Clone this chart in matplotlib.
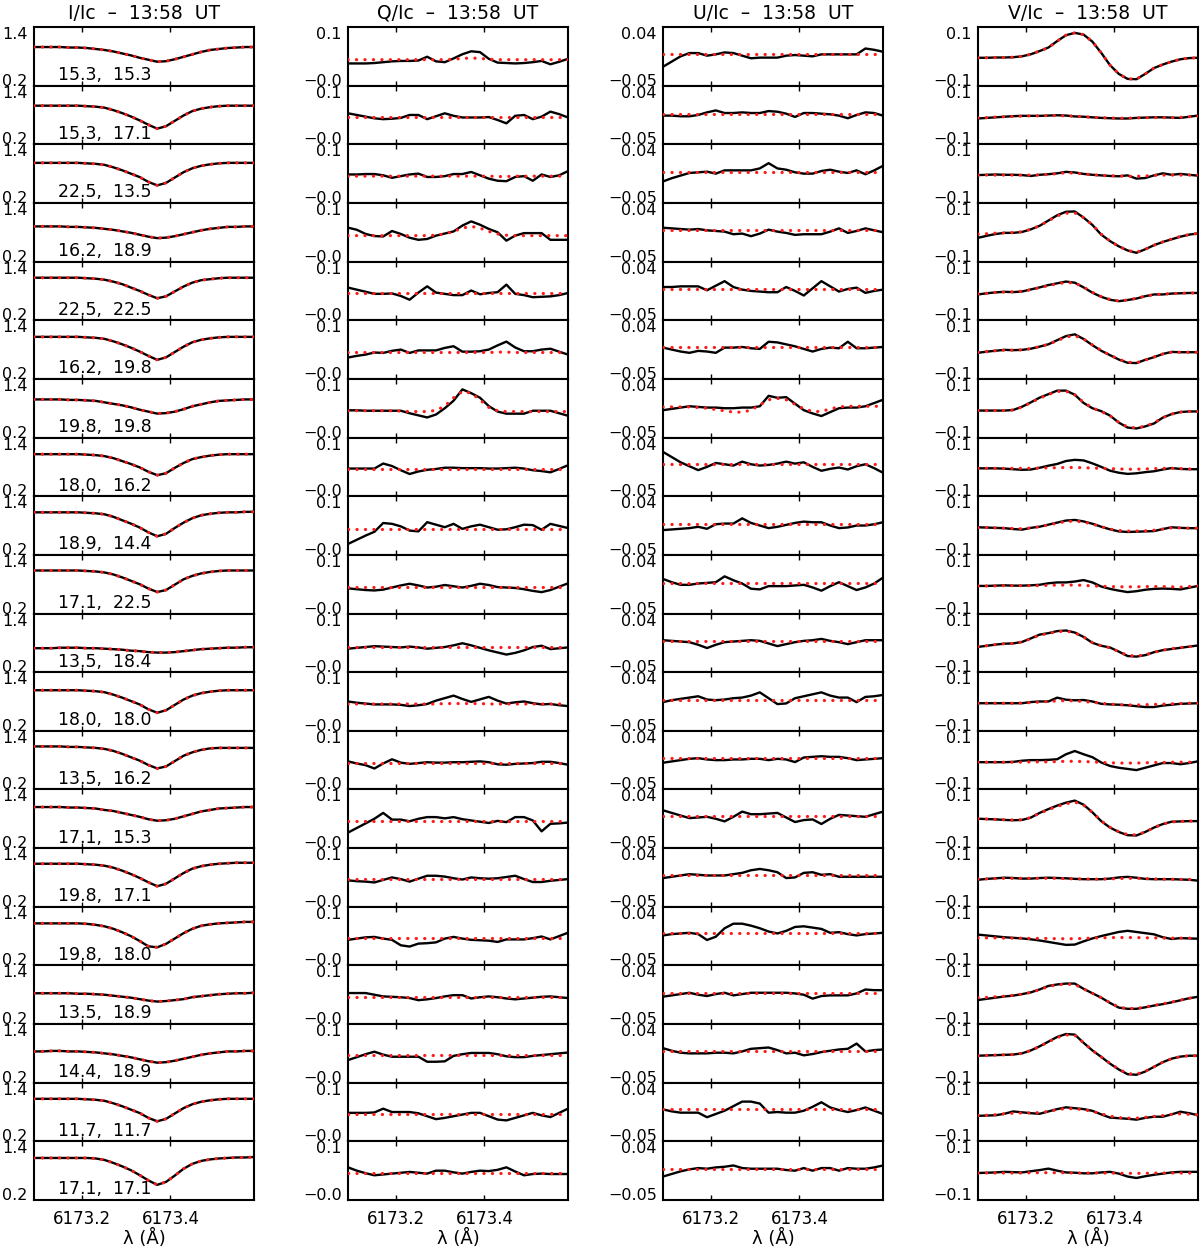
import matplotlib
matplotlib.use('Agg')
import matplotlib.pyplot as plt

plt.rcParams['font.family'] = ['DejaVu Sans']

wavelength = [6173.09, 6173.11, 6173.13, 6173.15, 6173.17, 6173.19, 6173.21, 6173.23, 6173.25,
              6173.27, 6173.29, 6173.31, 6173.33, 6173.35, 6173.37, 6173.39, 6173.41, 6173.43,
              6173.45, 6173.47, 6173.49, 6173.51, 6173.53, 6173.55, 6173.57, 6173.59]

row_labels = ["15.3,  15.3", "15.3,  17.1", "22.5,  13.5", "16.2,  18.9", "22.5,  22.5",
              "16.2,  19.8", "19.8,  19.8", "18.0,  16.2", "18.9,  14.4", "17.1,  22.5",
              "13.5,  18.4", "18.0,  18.0", "13.5,  16.2", "17.1,  15.3", "19.8,  17.1",
              "19.8,  18.0", "13.5,  18.9", "14.4,  18.9", "11.7,  11.7", "17.1,  17.1"]

panel_titles = ["I/Ic  \u2013  13:58  UT", "Q/Ic  \u2013  13:58  UT",
                "U/Ic  \u2013  13:58  UT", "V/Ic  \u2013  13:58  UT"]

y_limits = [(0.2, 1.4), (-0.04, 0.1), (-0.05, 0.04), (-0.1, 0.1)]
y_tick_labels = [["0.2", "1.4"], ["\u22120.0", "0.1"], ["\u22120.05", "0.04"], ["\u22120.1", "0.1"]]
x_ticks = [6173.2, 6173.4]
x_tick_labels = ["6173.2", "6173.4"]
x_label = "\u03bb (\u00c5)"

i_obs = [
 [.99,.99,.99,.99,.98,.98,.97,.95,.93,.90,.86,.82,.77,.73,.69,.70,.74,.79,.84,.89,.93,.95,.97,.98,.99,.99],
 [.99,.99,.99,.99,.99,.99,.98,.97,.95,.90,.84,.77,.69,.60,.52,.57,.68,.79,.88,.93,.96,.98,.99,.99,.99,.99],
 [1.02,1.02,1.02,1.02,1.02,1.02,1.01,1.00,.98,.93,.87,.80,.73,.63,.56,.61,.72,.83,.91,.96,.99,1.01,1.02,1.02,1.02,1.02],
 [.92,.92,.92,.92,.91,.91,.90,.89,.87,.85,.82,.79,.75,.71,.68,.69,.72,.76,.80,.84,.87,.89,.91,.91,.92,.92],
 [1.07,1.07,1.07,1.07,1.07,1.07,1.06,1.05,1.03,.99,.94,.87,.80,.72,.65,.69,.79,.89,.97,1.02,1.04,1.06,1.07,1.07,1.07,1.07],
 [1.06,1.06,1.06,1.06,1.06,1.06,1.05,1.04,1.02,.97,.91,.84,.76,.67,.59,.64,.75,.86,.95,1.00,1.03,1.05,1.06,1.06,1.06,1.06],
 [.98,.98,.98,.98,.97,.97,.96,.95,.92,.89,.86,.82,.77,.73,.69,.70,.73,.78,.84,.88,.92,.95,.96,.97,.98,.98],
 [1.06,1.06,1.06,1.06,1.06,1.06,1.05,1.04,1.02,.98,.92,.86,.79,.70,.63,.67,.78,.88,.96,1.00,1.03,1.05,1.06,1.06,1.06,1.06],
 [1.07,1.07,1.07,1.07,1.07,1.07,1.06,1.05,1.03,.98,.91,.84,.76,.66,.58,.63,.75,.86,.95,1.01,1.04,1.06,1.07,1.07,1.08,1.08],
 [1.08,1.08,1.08,1.08,1.08,1.08,1.07,1.06,1.04,1.00,.94,.87,.80,.71,.64,.68,.79,.90,.97,1.02,1.05,1.07,1.08,1.08,1.08,1.08],
 [.69,.69,.69,.70,.70,.70,.69,.69,.68,.67,.66,.64,.63,.61,.60,.60,.61,.63,.65,.67,.68,.69,.70,.70,.71,.71],
 [1.03,1.03,1.03,1.03,1.03,1.03,1.02,1.01,.99,.94,.88,.81,.74,.64,.57,.62,.73,.84,.92,.97,1.00,1.02,1.03,1.03,1.03,1.03],
 [1.08,1.08,1.08,1.08,1.07,1.07,1.06,1.05,1.03,.99,.93,.86,.79,.70,.63,.67,.78,.89,.96,1.01,1.04,1.05,1.05,1.05,1.05,1.05],
 [1.04,1.04,1.04,1.04,1.03,1.03,1.02,1.01,.98,.96,.92,.88,.84,.79,.76,.77,.80,.85,.90,.95,.98,1.01,1.02,1.03,1.04,1.04],
 [1.08,1.08,1.08,1.08,1.08,1.08,1.07,1.06,1.04,1.00,.94,.87,.79,.70,.62,.67,.78,.89,.98,1.03,1.06,1.08,1.09,1.10,1.10,1.10],
 [1.06,1.06,1.06,1.06,1.06,1.06,1.05,1.03,1.00,.95,.88,.80,.70,.59,.57,.64,.75,.86,.95,1.01,1.04,1.06,1.07,1.08,1.09,1.09],
 [.83,.83,.83,.83,.83,.82,.82,.81,.80,.78,.76,.74,.71,.68,.66,.67,.69,.71,.75,.77,.79,.81,.82,.83,.83,.84],
 [.84,.84,.85,.85,.84,.84,.83,.82,.80,.78,.75,.72,.68,.64,.61,.62,.65,.69,.73,.77,.80,.82,.84,.84,.85,.85],
 [1.07,1.07,1.07,1.07,1.07,1.07,1.06,1.05,1.03,.98,.92,.85,.78,.68,.61,.66,.77,.88,.96,1.01,1.04,1.06,1.07,1.07,1.07,1.07],
 [1.06,1.06,1.06,1.06,1.06,1.06,1.06,1.05,1.02,.96,.89,.81,.71,.60,.51,.57,.70,.84,.94,1.00,1.03,1.05,1.06,1.07,1.07,1.08],
]

i_fit = [
 [.99,.99,.99,.99,.98,.98,.97,.95,.93,.90,.86,.82,.77,.73,.69,.70,.74,.79,.84,.89,.93,.95,.97,.98,.99,.99],
 [.99,.99,.99,.99,.99,.99,.98,.97,.95,.90,.84,.77,.69,.60,.52,.57,.68,.79,.88,.93,.96,.98,.99,.99,.99,.99],
 [1.02,1.02,1.02,1.02,1.02,1.02,1.01,1.00,.98,.93,.87,.80,.73,.63,.56,.61,.72,.83,.91,.96,.99,1.01,1.02,1.02,1.02,1.02],
 [.92,.92,.92,.92,.91,.91,.90,.89,.87,.85,.82,.79,.75,.71,.68,.69,.72,.76,.80,.84,.87,.89,.91,.91,.92,.92],
 [1.07,1.07,1.07,1.07,1.07,1.07,1.06,1.05,1.03,.99,.94,.87,.80,.72,.65,.69,.79,.89,.97,1.02,1.04,1.06,1.07,1.07,1.07,1.07],
 [1.06,1.06,1.06,1.06,1.06,1.06,1.05,1.04,1.02,.97,.91,.84,.76,.67,.59,.64,.75,.86,.95,1.00,1.03,1.05,1.06,1.06,1.06,1.06],
 [.98,.98,.98,.98,.97,.97,.96,.95,.92,.89,.86,.82,.77,.73,.69,.70,.73,.78,.84,.88,.92,.95,.96,.97,.98,.98],
 [1.06,1.06,1.06,1.06,1.06,1.06,1.05,1.04,1.02,.98,.92,.86,.79,.70,.63,.67,.78,.88,.96,1.00,1.03,1.05,1.06,1.06,1.06,1.06],
 [1.07,1.07,1.07,1.07,1.07,1.07,1.06,1.05,1.03,.98,.91,.84,.76,.66,.58,.63,.75,.86,.95,1.01,1.04,1.06,1.07,1.07,1.08,1.08],
 [1.08,1.08,1.08,1.08,1.08,1.08,1.07,1.06,1.04,1.00,.94,.87,.80,.71,.64,.68,.79,.90,.97,1.02,1.05,1.07,1.08,1.08,1.08,1.08],
 [.69,.69,.69,.70,.70,.70,.69,.69,.68,.67,.66,.64,.63,.61,.60,.60,.61,.63,.65,.67,.68,.69,.70,.70,.71,.71],
 [1.03,1.03,1.03,1.03,1.03,1.03,1.02,1.01,.99,.94,.88,.81,.74,.64,.57,.62,.73,.84,.92,.97,1.00,1.02,1.03,1.03,1.03,1.03],
 [1.08,1.08,1.08,1.08,1.07,1.07,1.06,1.05,1.03,.99,.93,.86,.79,.70,.63,.67,.78,.89,.96,1.01,1.04,1.05,1.05,1.05,1.05,1.05],
 [1.04,1.04,1.04,1.04,1.03,1.03,1.02,1.01,.98,.96,.92,.88,.84,.79,.76,.77,.80,.85,.90,.95,.98,1.01,1.02,1.03,1.04,1.04],
 [1.08,1.08,1.08,1.08,1.08,1.08,1.07,1.06,1.04,1.00,.94,.87,.79,.70,.62,.67,.78,.89,.98,1.03,1.06,1.08,1.09,1.10,1.10,1.10],
 [1.06,1.06,1.06,1.06,1.06,1.06,1.05,1.03,1.00,.95,.88,.80,.70,.59,.57,.64,.75,.86,.95,1.01,1.04,1.06,1.07,1.08,1.09,1.09],
 [.83,.83,.83,.83,.83,.82,.82,.81,.80,.78,.76,.74,.71,.68,.66,.67,.69,.71,.75,.77,.79,.81,.82,.83,.83,.84],
 [.84,.84,.85,.85,.84,.84,.83,.82,.80,.78,.75,.72,.68,.64,.61,.62,.65,.69,.73,.77,.80,.82,.84,.84,.85,.85],
 [1.07,1.07,1.07,1.07,1.07,1.07,1.06,1.05,1.03,.98,.92,.85,.78,.68,.61,.66,.77,.88,.96,1.01,1.04,1.06,1.07,1.07,1.07,1.07],
 [1.06,1.06,1.06,1.06,1.06,1.06,1.06,1.05,1.02,.96,.89,.81,.71,.60,.51,.57,.70,.84,.94,1.00,1.03,1.05,1.06,1.07,1.07,1.08],
]

q_obs = [
 [.013,.013,.013,.014,.016,.018,.019,.019,.020,.029,.018,.016,.025,.035,.042,.040,.024,.015,.014,.013,.014,.016,.019,.011,.017,.024],
 [.034,.030,.026,.022,.020,.021,.023,.030,.030,.020,.027,.034,.028,.024,.024,.024,.025,.018,.010,.028,.030,.020,.026,.038,.032,.024],
 [.028,.028,.029,.029,.026,.020,.024,.028,.030,.022,.022,.024,.029,.029,.034,.026,.018,.013,.012,.022,.024,.013,.028,.022,.026,.036],
 [.041,.036,.026,.021,.020,.033,.026,.017,.012,.014,.022,.027,.032,.046,.056,.048,.038,.030,.010,.022,.028,.028,.028,.012,.012,.012],
 [.038,.033,.028,.023,.023,.024,.018,.009,.026,.041,.026,.023,.020,.020,.031,.022,.025,.027,.045,.023,.020,.015,.016,.017,.020,.025],
 [.011,.015,.018,.023,.022,.027,.030,.022,.028,.028,.028,.034,.038,.025,.025,.026,.030,.040,.049,.035,.026,.026,.030,.032,.025,.018],
 [.025,.025,.024,.024,.024,.024,.024,.018,.013,.008,.015,.030,.048,.075,.066,.055,.035,.022,.017,.017,.017,.024,.024,.024,.018,.012],
 [.026,.026,.026,.026,.038,.032,.022,.013,.019,.023,.025,.028,.028,.027,.027,.027,.026,.026,.027,.028,.026,.022,.020,.017,.025,.034],
 [-.014,-.004,.006,.015,.036,.034,.028,.018,.016,.038,.032,.026,.034,.022,.028,.032,.026,.020,.021,.026,.032,.031,.020,.034,.029,.024],
 [.020,.018,.016,.015,.017,.022,.027,.031,.027,.022,.024,.028,.025,.022,.026,.031,.028,.023,.022,.021,.018,.014,.011,.016,.024,.032],
 [.016,.018,.020,.022,.021,.020,.019,.021,.019,.016,.018,.020,.024,.029,.024,.018,.012,.007,.002,.006,.012,.020,.023,.015,.017,.019],
 [.030,.027,.025,.023,.023,.023,.022,.019,.021,.024,.032,.038,.044,.036,.029,.035,.041,.032,.025,.028,.030,.026,.023,.024,.021,.019],
 [.027,.022,.018,.010,.022,.032,.024,.021,.023,.025,.024,.024,.025,.025,.026,.027,.025,.020,.019,.021,.022,.023,.026,.026,.023,.019],
 [-.003,.008,.019,.030,.044,.028,.028,.024,.030,.034,.034,.031,.034,.029,.026,.023,.020,.025,.022,.034,.034,.026,.000,.018,.019,.021],
 [.023,.021,.020,.018,.024,.030,.026,.020,.027,.034,.034,.032,.028,.025,.030,.028,.027,.028,.031,.034,.026,.019,.019,.022,.024,.026],
 [.021,.024,.027,.028,.024,.021,.008,.005,.012,.013,.015,.024,.028,.024,.021,.020,.019,.016,.022,.022,.022,.025,.029,.022,.030,.038],
 [.034,.034,.034,.030,.026,.025,.024,.022,.017,.019,.022,.026,.029,.029,.021,.024,.026,.024,.021,.019,.021,.023,.025,.026,.024,.022],
 [.014,.021,.028,.034,.027,.022,.022,.022,.022,.010,.010,.011,.024,.028,.031,.031,.031,.028,.023,.021,.021,.024,.026,.028,.030,.032],
 [.028,.028,.028,.029,.038,.030,.030,.030,.027,.020,.013,.016,.020,.024,.028,.028,.020,.012,.010,.016,.022,.028,.022,.018,.028,.038],
 [.038,.030,.024,.019,.021,.023,.025,.027,.025,.023,.030,.030,.026,.023,.027,.030,.029,.032,.038,.028,.019,.022,.023,.022,.022,.022],
]

q_fit = [
 [.022,.022,.022,.022,.022,.022,.022,.022,.022,.022,.022,.022,.023,.025,.026,.025,.023,.022,.022,.022,.022,.022,.022,.022,.022,.022],
 [.024,.024,.024,.024,.024,.024,.024,.024,.024,.024,.024,.024,.024,.024,.024,.024,.024,.024,.024,.024,.024,.024,.024,.024,.024,.024],
 [.024,.024,.024,.024,.024,.024,.024,.024,.024,.024,.024,.024,.024,.024,.024,.024,.024,.023,.023,.024,.024,.024,.024,.024,.024,.024],
 [.022,.022,.022,.022,.022,.022,.022,.022,.022,.022,.023,.026,.032,.040,.044,.040,.032,.026,.023,.022,.022,.022,.022,.022,.022,.022],
 [.025,.025,.025,.025,.025,.025,.025,.025,.025,.025,.025,.025,.025,.025,.025,.025,.025,.025,.025,.025,.025,.025,.025,.025,.025,.025],
 [.023,.023,.023,.023,.023,.023,.023,.023,.023,.023,.023,.023,.023,.023,.023,.023,.023,.024,.024,.023,.023,.023,.023,.023,.023,.023],
 [.024,.024,.024,.024,.024,.024,.023,.022,.022,.022,.025,.035,.055,.070,.066,.050,.032,.024,.022,.022,.022,.022,.022,.022,.022,.022],
 [.024,.024,.024,.024,.024,.024,.024,.024,.024,.024,.024,.024,.024,.024,.024,.024,.024,.024,.024,.024,.024,.024,.024,.024,.024,.024],
 [.022,.022,.022,.022,.022,.022,.022,.022,.022,.022,.022,.022,.022,.022,.022,.022,.022,.022,.022,.022,.022,.022,.022,.022,.022,.022],
 [.024,.024,.024,.024,.024,.024,.024,.024,.024,.024,.024,.024,.024,.024,.024,.024,.024,.024,.024,.024,.024,.024,.024,.024,.024,.024],
 [.021,.021,.021,.021,.021,.021,.021,.021,.021,.021,.021,.021,.021,.021,.021,.021,.021,.021,.021,.021,.021,.021,.021,.021,.021,.021],
 [.024,.024,.024,.024,.024,.024,.024,.024,.024,.024,.024,.025,.025,.025,.025,.025,.024,.024,.024,.024,.024,.024,.024,.024,.024,.024],
 [.023,.023,.023,.023,.023,.023,.023,.023,.023,.023,.023,.023,.023,.023,.023,.023,.023,.023,.023,.023,.023,.023,.023,.023,.023,.023],
 [.024,.024,.024,.024,.024,.024,.024,.024,.024,.024,.024,.024,.024,.024,.024,.024,.024,.024,.024,.024,.024,.024,.024,.024,.024,.024],
 [.026,.026,.026,.026,.026,.026,.026,.026,.026,.026,.026,.026,.026,.026,.026,.026,.026,.026,.026,.026,.026,.026,.026,.026,.026,.026],
 [.026,.026,.026,.026,.026,.026,.026,.026,.026,.026,.026,.026,.026,.026,.026,.026,.026,.026,.026,.026,.026,.026,.026,.026,.026,.026],
 [.025,.025,.025,.025,.025,.025,.025,.025,.025,.025,.025,.025,.025,.025,.025,.025,.025,.025,.025,.025,.025,.025,.025,.025,.025,.025],
 [.026,.026,.026,.026,.026,.026,.026,.026,.026,.026,.026,.026,.026,.026,.026,.026,.026,.026,.026,.026,.026,.026,.026,.026,.026,.026],
 [.026,.026,.026,.026,.026,.026,.026,.026,.026,.026,.026,.026,.026,.026,.026,.026,.026,.026,.026,.026,.026,.026,.026,.026,.026,.026],
 [.024,.024,.024,.024,.024,.024,.024,.024,.024,.024,.024,.024,.024,.024,.024,.024,.024,.024,.024,.024,.024,.024,.024,.024,.024,.024],
]

u_obs = [
 [-.021,-.013,-.005,.000,.000,-.004,-.002,.001,.000,-.004,-.008,-.007,-.007,-.007,-.004,-.003,-.004,-.005,-.002,-.002,-.002,-.002,-.002,.007,.005,.002],
 [-.006,-.006,-.007,-.007,-.005,-.001,.002,-.002,-.002,-.001,-.002,-.002,.001,.000,-.003,-.008,-.002,-.002,-.003,-.004,-.006,-.010,-.005,-.001,-.002,-.006],
 [-.017,-.012,-.008,-.004,-.003,-.002,-.005,.000,.000,.000,.000,.003,.011,.003,.001,-.003,-.005,-.005,-.001,.001,-.002,-.004,.000,-.006,.000,.007],
 [.002,.001,.000,-.001,.000,-.002,-.003,-.004,-.008,-.007,-.011,-.007,-.001,-.004,-.006,-.009,-.008,-.008,-.008,-.004,.001,-.006,-.003,.001,-.002,-.005],
 [.001,.001,.002,.002,.002,-.004,.003,.010,.001,-.003,-.005,-.006,-.007,-.007,.001,-.005,-.012,-.001,.010,.002,-.006,-.002,.000,-.008,-.005,-.003],
 [-.002,-.005,-.008,-.010,-.007,-.008,-.010,-.002,-.002,-.001,-.003,-.004,.007,.006,.003,.000,-.004,-.008,-.004,-.002,-.003,.007,-.003,-.003,-.002,-.001],
 [-.008,-.006,-.004,-.002,-.003,-.004,-.004,-.005,-.005,-.004,-.004,-.002,.014,.011,.012,.002,-.008,-.013,-.017,-.011,-.005,-.004,-.004,-.002,.003,.008],
 [.018,.010,.002,-.004,-.010,-.005,.001,-.001,-.003,.003,-.001,-.003,-.002,.000,.003,.000,.002,-.005,-.011,-.008,-.006,-.009,-.004,-.001,-.007,-.014],
 [-.012,-.011,-.010,-.009,-.007,-.010,-.003,-.002,-.002,.006,-.001,-.005,-.009,-.007,-.004,-.001,.001,.000,.000,-.005,-.009,-.008,-.005,-.005,-.003,.000],
 [.003,-.002,-.006,-.006,-.004,-.003,-.002,.007,.001,-.004,-.012,-.013,-.008,-.008,-.008,-.007,-.006,-.010,-.015,-.008,-.002,-.008,-.014,-.010,-.004,.005],
 [-.001,-.002,-.003,-.004,-.008,-.013,-.008,-.004,-.003,-.002,-.001,-.002,-.006,-.010,-.007,-.004,-.002,-.001,.001,-.002,-.004,-.007,-.004,-.001,-.001,-.001],
 [-.006,-.003,-.001,.001,.003,-.002,-.003,-.002,.000,.001,.004,.009,.000,-.009,-.008,.000,.003,.006,.009,.004,.001,.001,-.006,.002,.003,.005],
 [-.009,-.007,-.005,-.003,-.002,-.004,-.005,-.005,-.004,-.004,-.003,-.003,-.005,-.003,-.004,-.008,-.001,.000,.001,.000,.000,-.002,-.005,-.004,-.003,-.002],
 [.008,.004,.000,-.004,-.003,-.002,-.005,-.009,-.002,.006,.002,.002,.003,.004,-.003,-.010,-.007,-.006,-.013,-.005,.001,.000,-.001,-.002,.002,.006],
 [-.006,-.004,-.002,.000,-.001,-.002,-.002,-.002,.000,.002,.006,.008,.006,.003,-.006,-.005,.002,.003,-.001,.000,-.004,-.004,-.004,-.004,-.004,-.004],
 [-.004,-.002,-.001,.000,-.002,-.011,-.006,.007,.014,.014,.011,.007,.002,-.001,.003,.009,.010,.008,.006,.000,.001,-.002,-.004,-.002,-.001,.000],
 [-.008,-.006,-.004,-.002,-.005,-.007,-.004,-.002,-.006,-.004,-.002,-.002,-.002,-.002,-.002,-.003,-.005,-.011,-.007,-.006,-.006,-.006,-.003,.003,.002,.002],
 [.003,-.001,-.004,-.005,-.005,-.005,-.004,-.004,-.005,-.002,.002,.003,.004,.000,-.005,-.004,-.008,-.006,-.003,-.001,.001,.002,.010,-.002,.000,.001],
 [-.001,-.004,-.006,-.006,-.006,-.013,-.008,-.003,.004,.011,.011,.008,-.006,-.005,-.006,-.006,-.003,.003,.010,.002,-.002,-.005,-.002,.002,-.003,-.008],
 [-.014,-.010,-.006,-.003,-.001,-.002,.000,.001,.003,-.001,-.002,-.002,-.002,-.002,-.004,-.005,-.001,-.005,-.001,-.001,-.005,-.001,-.002,-.002,.000,.003],
]

u_fit = [
 [-.002,-.002,-.002,-.002,-.002,-.002,-.002,-.002,-.002,-.002,-.002,-.002,-.002,-.002,-.002,-.002,-.002,-.002,-.002,-.002,-.002,-.002,-.002,-.002,-.002,-.002],
 [-.003,-.003,-.003,-.003,-.003,-.003,-.003,-.003,-.003,-.003,-.003,-.003,-.003,-.003,-.003,-.003,-.003,-.003,-.003,-.003,-.003,-.003,-.003,-.003,-.003,-.003],
 [-.002,-.002,-.002,-.002,-.002,-.002,-.002,-.002,-.002,-.002,-.002,-.002,-.002,-.002,-.002,-.002,-.002,-.002,-.002,-.002,-.002,-.002,-.002,-.002,-.002,-.002],
 [-.002,-.002,-.002,-.002,-.002,-.002,-.002,-.002,-.002,-.002,-.002,-.002,-.002,-.002,-.002,-.002,-.002,-.002,-.002,-.002,-.002,-.002,-.002,-.002,-.002,-.002],
 [-.002,-.002,-.002,-.002,-.002,-.002,-.002,-.002,-.002,-.002,-.002,-.002,-.002,-.002,-.002,-.002,-.002,-.002,-.002,-.002,-.002,-.002,-.002,-.002,-.002,-.002],
 [-.001,-.001,-.001,-.001,-.001,-.001,-.001,-.001,-.001,-.001,-.001,-.001,-.001,-.001,-.001,-.001,-.001,-.001,-.001,-.001,-.001,-.001,-.001,-.001,-.001,-.001],
 [-.003,-.003,-.003,-.003,-.004,-.005,-.007,-.009,-.011,-.011,-.008,.000,.008,.010,.008,.001,-.006,-.010,-.010,-.006,-.003,-.002,-.002,-.002,-.002,-.002],
 [-.001,-.001,-.001,-.001,-.001,-.001,-.001,-.001,-.001,-.001,-.001,-.001,-.001,-.001,-.001,-.001,-.001,-.001,-.001,-.001,-.001,-.001,-.001,-.001,-.001,-.001],
 [-.002,-.002,-.002,-.002,-.002,-.002,-.002,-.002,-.002,-.002,-.002,-.002,-.002,-.002,-.002,-.002,-.002,-.002,-.002,-.002,-.002,-.002,-.002,-.002,-.002,-.002],
 [-.003,-.003,-.003,-.003,-.003,-.003,-.003,-.003,-.003,-.003,-.003,-.003,-.003,-.003,-.003,-.003,-.003,-.003,-.003,-.003,-.003,-.003,-.003,-.003,-.003,-.003],
 [-.002,-.002,-.002,-.002,-.002,-.002,-.002,-.002,-.002,-.002,-.002,-.002,-.002,-.002,-.002,-.002,-.002,-.002,-.002,-.002,-.002,-.002,-.002,-.002,-.002,-.002],
 [-.003,-.003,-.003,-.003,-.003,-.003,-.003,-.003,-.003,-.003,-.003,-.003,-.003,-.003,-.003,-.003,-.003,-.003,-.003,-.003,-.003,-.003,-.003,-.003,-.003,-.003],
 [-.002,-.002,-.002,-.002,-.002,-.002,-.002,-.002,-.002,-.002,-.002,-.002,-.002,-.002,-.002,-.002,-.002,-.002,-.002,-.002,-.002,-.002,-.002,-.002,-.002,-.002],
 [.000,.000,.000,.000,.000,.000,.000,.000,.000,.000,.000,.000,.000,.000,.000,.000,.000,.000,.000,.000,.000,.000,.000,.000,.000,.000],
 [-.001,-.001,-.001,-.001,-.001,-.001,-.001,-.001,-.001,-.001,-.001,-.001,-.001,-.001,-.001,-.001,-.001,-.001,-.001,-.001,-.001,-.001,-.001,-.001,-.001,-.001],
 [-.001,-.001,-.001,-.001,-.001,-.001,-.001,-.001,-.001,-.001,-.001,-.001,-.001,-.001,-.001,-.001,-.001,-.001,-.001,-.001,-.001,-.001,-.001,-.001,-.001,-.001],
 [-.002,-.002,-.002,-.002,-.002,-.002,-.002,-.002,-.002,-.002,-.002,-.002,-.002,-.002,-.002,-.002,-.002,-.002,-.002,-.002,-.002,-.002,-.002,-.002,-.002,-.002],
 [-.001,-.001,-.001,-.001,-.001,-.001,-.001,-.001,-.001,-.001,-.001,-.001,-.001,-.001,-.001,-.001,-.001,-.001,-.001,-.001,-.001,-.001,-.001,-.001,-.001,-.001],
 [-.001,-.001,-.001,-.001,-.001,-.001,-.001,-.001,-.001,-.001,-.001,-.001,-.001,-.001,-.001,-.001,-.001,-.001,-.001,-.001,-.001,-.001,-.001,-.001,-.001,-.001],
 [-.002,-.002,-.002,-.002,-.002,-.002,-.002,-.002,-.002,-.002,-.002,-.002,-.002,-.002,-.002,-.002,-.002,-.002,-.002,-.002,-.002,-.002,-.002,-.002,-.002,-.002],
]

v_obs = [
 [-.005,-.005,-.004,-.004,-.003,.000,.007,.018,.030,.052,.072,.080,.074,.050,.012,-.030,-.060,-.077,-.078,-.060,-.040,-.028,-.018,-.010,-.006,-.005],
 [-.012,-.010,-.008,-.006,-.004,-.003,-.003,-.003,-.002,-.001,-.002,-.005,-.006,-.008,-.010,-.011,-.012,-.012,-.010,-.009,-.008,-.008,-.009,-.010,-.006,-.002],
 [-.005,-.004,-.003,-.004,-.004,-.005,-.008,-.004,-.002,.001,.006,.004,-.001,-.004,-.006,-.008,-.009,-.006,-.017,-.015,-.006,.001,-.004,-.001,-.004,-.007],
 [-.019,-.012,-.006,-.002,-.002,.001,.010,.022,.040,.058,.070,.071,.050,.025,-.008,-.030,-.048,-.062,-.070,-.058,-.044,-.033,-.024,-.015,-.008,-.004],
 [-.012,-.008,-.005,-.003,-.004,-.002,.005,.012,.020,.026,.032,.028,.012,-.006,-.020,-.030,-.035,-.031,-.026,-.018,-.012,-.012,-.009,-.008,-.007,-.007],
 [-.011,-.007,-.004,-.001,-.002,-.001,.003,.010,.018,.032,.046,.052,.036,.015,-.004,-.019,-.034,-.045,-.046,-.035,-.026,-.015,-.008,-.009,-.009,-.009],
 [-.008,-.008,-.008,-.008,-.006,.005,.020,.036,.048,.060,.060,.046,.018,.000,-.010,-.025,-.049,-.066,-.069,-.062,-.052,-.032,-.020,-.013,-.011,-.011],
 [-.005,-.005,-.005,-.006,-.008,-.010,-.009,-.003,.004,.010,.020,.024,.022,.012,.000,-.013,-.020,-.024,-.022,-.018,-.015,-.009,-.004,-.007,-.008,-.008],
 [-.006,-.007,-.008,-.009,-.012,-.014,-.008,-.004,.003,.010,.017,.019,.014,.006,-.004,-.013,-.020,-.022,-.021,-.020,-.019,-.012,-.006,-.008,-.009,-.009],
 [-.006,-.006,-.005,-.004,-.005,-.005,-.004,-.002,.003,.006,.006,.009,.014,.006,-.008,-.016,-.022,-.027,-.024,-.019,-.016,-.015,-.016,-.018,-.012,-.006],
 [-.014,-.010,-.006,-.003,-.002,.003,.015,.028,.033,.040,.042,.035,.020,.000,-.010,-.016,-.030,-.045,-.047,-.042,-.032,-.025,-.021,-.017,-.013,-.009],
 [-.006,-.006,-.006,-.006,-.006,-.006,-.002,.000,.000,.013,.006,.004,.005,.000,-.008,-.010,-.011,-.013,-.016,-.019,-.019,-.014,-.011,-.008,-.007,-.006],
 [-.007,-.007,-.007,-.007,-.006,-.002,.000,.000,.001,.003,.020,.031,.020,.010,-.008,-.020,-.026,-.030,-.034,-.026,-.018,-.010,-.010,-.014,-.010,-.004],
 [.000,-.001,-.002,-.004,-.005,-.004,.004,.020,.033,.045,.055,.062,.048,.022,-.008,-.030,-.045,-.056,-.057,-.045,-.030,-.018,-.010,-.009,-.008,-.008],
 [-.008,-.005,-.003,-.001,-.002,-.004,-.004,-.002,-.001,-.002,-.003,-.005,-.006,-.006,-.006,-.004,.000,.002,-.001,-.005,-.006,-.006,-.006,-.007,-.008,-.011],
 [.005,.002,-.001,-.004,-.006,-.008,-.011,-.015,-.020,-.025,-.030,-.029,-.018,-.008,.000,.007,.014,.018,.014,.010,.006,-.004,-.010,-.007,-.008,-.009],
 [-.018,-.014,-.010,-.006,-.003,.002,.008,.018,.030,.035,.038,.038,.020,.005,-.010,-.028,-.044,-.048,-.048,-.043,-.037,-.032,-.026,-.019,-.012,-.007],
 [-.008,-.007,-.006,-.005,-.004,.000,.010,.024,.040,.056,.066,.064,.036,.010,-.012,-.035,-.055,-.071,-.073,-.062,-.046,-.030,-.018,-.011,-.008,-.008],
 [-.013,-.012,-.011,-.006,.002,-.001,-.004,-.006,.002,.010,.016,.013,.010,.004,-.008,-.019,-.021,-.023,-.026,-.020,-.016,-.016,-.008,.001,-.004,-.011],
 [-.008,-.007,-.006,-.004,-.005,-.006,-.002,.002,.007,.000,-.006,-.007,-.009,-.009,-.006,-.004,-.010,-.020,-.025,-.019,-.014,-.010,-.006,-.004,-.004,-.004],
]

v_fit = [
 [-.005,-.005,-.004,-.004,-.003,.000,.007,.018,.030,.052,.072,.080,.074,.050,.012,-.030,-.060,-.077,-.078,-.060,-.040,-.028,-.018,-.010,-.006,-.005],
 [-.010,-.009,-.007,-.006,-.005,-.004,-.003,-.003,-.002,-.002,-.003,-.004,-.006,-.008,-.009,-.010,-.011,-.011,-.010,-.009,-.009,-.009,-.009,-.008,-.006,-.004],
 [-.005,-.005,-.005,-.005,-.005,-.005,-.005,-.004,-.003,.000,.003,.002,-.001,-.004,-.006,-.007,-.008,-.009,-.009,-.008,-.006,-.005,-.005,-.005,-.005,-.005],
 [-.006,-.005,-.003,-.002,-.001,.002,.010,.022,.039,.056,.065,.066,.050,.025,-.006,-.030,-.048,-.062,-.068,-.058,-.044,-.033,-.023,-.014,-.008,-.004],
 [-.010,-.008,-.005,-.004,-.003,-.001,.004,.011,.018,.024,.029,.027,.013,-.005,-.019,-.029,-.034,-.031,-.025,-.018,-.013,-.011,-.009,-.008,-.007,-.007],
 [-.010,-.007,-.004,-.002,-.002,-.001,.003,.010,.018,.030,.043,.047,.036,.016,-.003,-.019,-.033,-.043,-.045,-.036,-.025,-.015,-.009,-.009,-.009,-.009],
 [-.008,-.008,-.008,-.008,-.006,.004,.019,.034,.047,.057,.058,.046,.020,.001,-.011,-.026,-.048,-.064,-.067,-.061,-.050,-.032,-.020,-.013,-.011,-.011],
 [-.005,-.005,-.005,-.005,-.005,-.005,-.005,-.004,-.003,-.003,-.002,-.002,-.003,-.004,-.005,-.006,-.007,-.008,-.008,-.007,-.006,-.005,-.005,-.006,-.007,-.007],
 [-.007,-.007,-.008,-.009,-.010,-.011,-.008,-.004,.002,.008,.014,.015,.012,.005,-.004,-.012,-.017,-.019,-.019,-.018,-.016,-.012,-.008,-.008,-.009,-.009],
 [-.006,-.006,-.006,-.005,-.005,-.005,-.005,-.005,-.004,-.003,-.003,-.003,-.004,-.006,-.007,-.008,-.009,-.009,-.009,-.008,-.008,-.008,-.009,-.010,-.008,-.006],
 [-.013,-.010,-.006,-.003,-.002,.003,.014,.026,.032,.038,.040,.034,.020,.001,-.010,-.017,-.030,-.043,-.045,-.041,-.032,-.025,-.020,-.016,-.013,-.010],
 [-.006,-.006,-.006,-.006,-.006,-.005,-.004,-.002,.000,.002,.003,.002,.000,-.003,-.006,-.009,-.011,-.012,-.012,-.011,-.010,-.009,-.008,-.007,-.006,-.006],
 [-.007,-.007,-.007,-.007,-.007,-.007,-.006,-.006,-.006,-.005,-.004,-.004,-.005,-.006,-.008,-.009,-.010,-.010,-.010,-.009,-.008,-.008,-.007,-.007,-.007,-.007],
 [.000,-.001,-.002,-.003,-.004,-.003,.004,.019,.031,.042,.051,.057,.046,.022,-.007,-.029,-.044,-.054,-.055,-.045,-.030,-.018,-.011,-.009,-.008,-.008],
 [-.006,-.005,-.004,-.003,-.003,-.003,-.003,-.003,-.003,-.003,-.004,-.005,-.005,-.006,-.006,-.005,-.004,-.003,-.003,-.004,-.005,-.006,-.006,-.007,-.007,-.008],
 [-.006,-.006,-.006,-.007,-.007,-.007,-.008,-.008,-.008,-.009,-.009,-.009,-.008,-.007,-.006,-.005,-.005,-.005,-.005,-.006,-.006,-.007,-.007,-.007,-.007,-.007],
 [-.010,-.009,-.007,-.005,-.002,.002,.008,.017,.028,.034,.036,.035,.020,.005,-.010,-.027,-.042,-.047,-.047,-.042,-.036,-.031,-.025,-.018,-.012,-.008],
 [-.008,-.007,-.006,-.005,-.004,.000,.010,.023,.039,.054,.063,.062,.036,.010,-.012,-.034,-.054,-.069,-.071,-.061,-.046,-.030,-.018,-.011,-.008,-.008],
 [-.012,-.011,-.009,-.006,-.004,-.003,-.003,-.002,.002,.008,.012,.011,.008,.002,-.006,-.014,-.019,-.021,-.021,-.018,-.015,-.012,-.008,-.006,-.008,-.010],
 [-.008,-.008,-.008,-.008,-.008,-.008,-.007,-.007,-.007,-.007,-.007,-.008,-.008,-.008,-.008,-.008,-.009,-.009,-.009,-.009,-.008,-.008,-.008,-.008,-.008,-.008],
]

observed = [i_obs, q_obs, u_obs, v_obs]
fitted = [i_fit, q_fit, u_fit, v_fit]

W_PX, H_PX = 1200, 1248
fig = plt.figure(figsize=(12, 12.48), dpi=100)
col_left_px = [34, 348, 663, 978]
axes_w_px = 220
top_px, bottom_px = 27, 1200
n_rows = len(row_labels)
row_h_px = (bottom_px - top_px) / n_rows

for c in range(4):
    for r in range(n_rows):
        bottom = 1 - (top_px + (r + 1) * row_h_px) / H_PX
        ax = fig.add_axes([col_left_px[c] / W_PX, bottom, axes_w_px / W_PX, row_h_px / H_PX])
        ax.plot(wavelength, observed[c][r], color='black', lw=1.7, zorder=2)
        ax.plot(wavelength, fitted[c][r], color='#ff1a1a', lw=2.3,
                linestyle=(0, (0.05, 2.6)), dash_capstyle='round', zorder=3)
        ax.set_xlim(wavelength[0], wavelength[-1])
        ax.set_ylim(*y_limits[c])
        ax.set_yticks(list(y_limits[c]))
        ax.set_yticklabels(y_tick_labels[c])
        ax.tick_params(axis='y', length=0, pad=4.5, labelsize=11.5)
        ax.set_xticks(x_ticks)
        ax.tick_params(axis='x', direction='in', top=True, bottom=True, length=3.5,
                       width=1.0, labelsize=12, pad=7)
        if r < n_rows - 1:
            ax.set_xticklabels([])
        else:
            ax.set_xticklabels(x_tick_labels)
            ax.set_xlabel(x_label, fontsize=13, labelpad=1)
        labs = ax.get_yticklabels()
        labs[0].set_verticalalignment('baseline')
        labs[1].set_verticalalignment('top')
        for sp in ax.spines.values():
            sp.set_linewidth(1.5)
        if r == 0:
            ax.set_title(panel_titles[c], fontsize=13.5, pad=6)
        if c == 0:
            ax.text(0.11, 0.18, row_labels[r], transform=ax.transAxes,
                    fontsize=12.5, ha='left', va='center')

fig.savefig('out.png', dpi=100)
